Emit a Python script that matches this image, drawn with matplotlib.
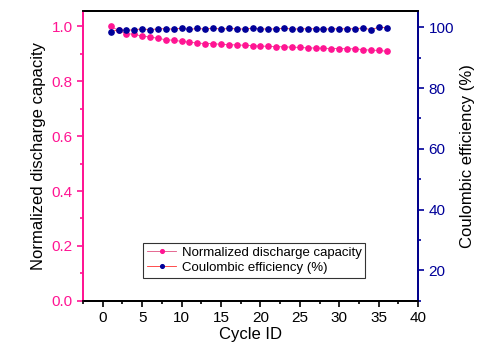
import numpy as np
import matplotlib
matplotlib.use('Agg')
from matplotlib import pyplot as plt
from matplotlib.ticker import MultipleLocator

plt.rcParams['font.family'] = ['Liberation Sans', 'DejaVu Sans']

## data
cycle = np.arange(1, 37)
capacity = [1.000, 0.985, 0.973, 0.971, 0.964, 0.961, 0.956, 0.951, 0.949, 0.945,
            0.942, 0.939, 0.937, 0.937, 0.934, 0.933, 0.932, 0.931, 0.929, 0.928,
            0.927, 0.926, 0.925, 0.924, 0.923, 0.921, 0.921, 0.920, 0.919, 0.919,
            0.918, 0.918, 0.915, 0.913, 0.912, 0.909]
efficiency = [98.5, 99.2, 99.0, 99.2, 99.5, 99.2, 99.5, 99.5, 99.4, 99.7,
              99.3, 99.6, 99.4, 99.7, 99.4, 99.6, 99.5, 99.4, 99.7, 99.5,
              99.4, 99.5, 99.7, 99.4, 99.5, 99.5, 99.5, 99.4, 99.5, 99.5,
              99.5, 99.5, 99.8, 99.2, 100.0, 99.9]

pink = '#ff1493'
navy = '#000099'

fig = plt.figure(figsize=(4.8, 3.49), dpi=100)
ax = fig.add_axes([0.173, 0.138, 0.698, 0.830])
ax2 = ax.twinx()

l1, = ax.plot(cycle, capacity, color='#e05080', linewidth=0.6, marker='o',
              markersize=3.8, markerfacecolor=pink, markeredgecolor=pink,
              label='Normalized discharge capacity')
l2, = ax2.plot(cycle, efficiency, color='#ff3030', linewidth=0.6, marker='o',
               markersize=3.8, markerfacecolor=navy, markeredgecolor=navy,
               label='Coulombic efficiency (%)')

ax.set_xlim(-2.5, 40)
ax.set_ylim(0, 1.055)
ax2.set_ylim(10, 105.3)

ax.xaxis.set_major_locator(MultipleLocator(5))
ax.xaxis.set_minor_locator(MultipleLocator(2.5))
ax.yaxis.set_major_locator(MultipleLocator(0.2))
ax.yaxis.set_minor_locator(MultipleLocator(0.1))
ax2.yaxis.set_major_locator(MultipleLocator(20))
ax2.yaxis.set_minor_locator(MultipleLocator(10))

ax.tick_params(axis='x', which='both', direction='out', labelsize=11, width=1.2)
ax.tick_params(axis='x', which='major', length=4)
ax.tick_params(axis='x', which='minor', length=2.5)
ax.tick_params(axis='y', which='both', colors=pink, labelsize=11, width=1.2)
ax.tick_params(axis='y', which='major', length=4)
ax.tick_params(axis='y', which='minor', length=2.5)
ax2.tick_params(axis='y', which='both', colors=navy, labelsize=11, width=1.2)
ax2.tick_params(axis='y', which='major', length=4)
ax2.tick_params(axis='y', which='minor', length=2.5)
ax.set_yticklabels([f'{v:.1f}' for v in ax.get_yticks()])

for s in ax.spines.values():
    s.set_linewidth(1.3)
for s in ax2.spines.values():
    s.set_linewidth(1.3)
ax2.spines['left'].set_color(pink)
ax2.spines['right'].set_color(navy)
ax.spines['left'].set_color(pink)

ax.set_xlabel('Cycle ID', fontsize=12, labelpad=1)
ax.set_ylabel('Normalized discharge capacity', fontsize=12, labelpad=4)
ax2.set_ylabel('Coulombic efficiency (%)', fontsize=12, labelpad=4)

leg = ax.legend(handles=[l1, l2], loc='lower left', bbox_to_anchor=(0.18, 0.08),
                fontsize=9.5, frameon=True, fancybox=False, edgecolor='black',
                handlelength=2.2, borderpad=0.3, labelspacing=0.2, handletextpad=0.4,
                borderaxespad=0, markerscale=0.7)
leg.get_frame().set_linewidth(0.8)

plt.savefig('out.png', dpi=100)
